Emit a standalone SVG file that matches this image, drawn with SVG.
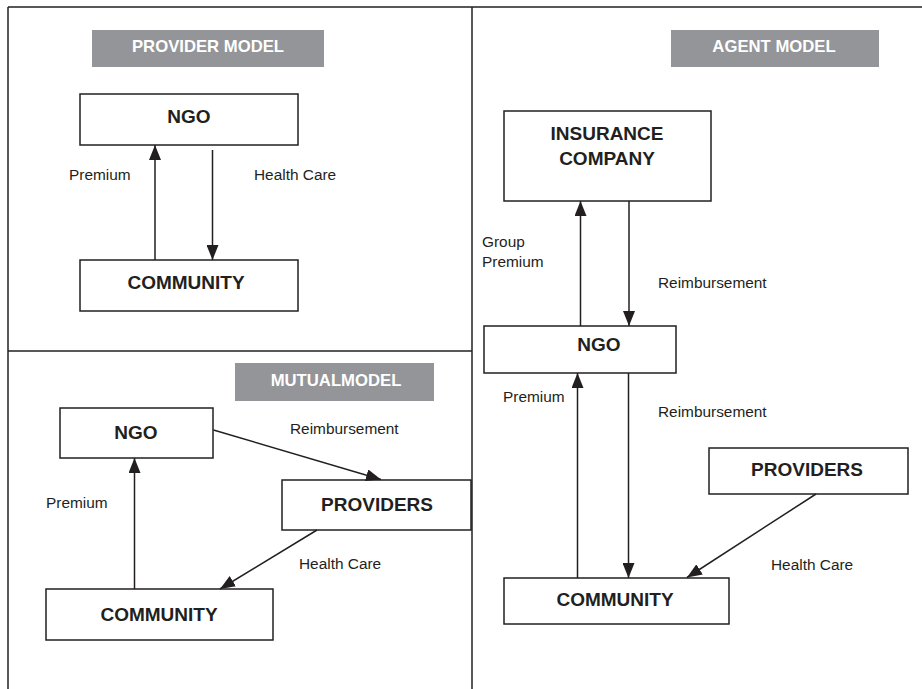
<svg xmlns="http://www.w3.org/2000/svg" width="922" height="689" viewBox="0 0 922 689">
  <style>
    .frame { stroke: #231f20; stroke-width: 1.5; fill: none; }
    .box { fill: #ffffff; stroke: #231f20; stroke-width: 1.5; }
    .title { fill: #939598; }
    .title-text { font-family: "Liberation Sans", Arial, sans-serif; font-weight: bold; font-size: 16.7px; fill: #ffffff; text-anchor: middle; }
    .node-text { font-family: "Liberation Sans", Arial, sans-serif; font-weight: bold; font-size: 19px; fill: #231f20; text-anchor: middle; }
    .label { font-family: "Liberation Sans", Arial, sans-serif; font-size: 15.4px; fill: #231f20; }
    .edge { stroke: #231f20; stroke-width: 1.5; fill: none; marker-end: url(#arrow); }
  </style>
  <defs>
    <marker id="arrow" markerUnits="userSpaceOnUse" markerWidth="15" markerHeight="12" refX="15" refY="6" orient="auto">
      <path d="M0,0 L15,6 L0,12 z" fill="#231f20"/>
    </marker>
  </defs>

  <rect width="922" height="689" fill="#ffffff"/>

  <!-- panel frame -->
  <g id="frame" class="frame">
    <line x1="8" y1="7" x2="922" y2="7"/>
    <line x1="8" y1="7" x2="8" y2="689"/>
    <line x1="472" y1="7" x2="472" y2="689"/>
    <line x1="8" y1="351" x2="472" y2="351"/>
  </g>

  <!-- provider model -->
  <g id="provider-title">
    <rect class="title" x="92" y="30" width="232" height="37"/>
    <text class="title-text" x="208" y="52">PROVIDER MODEL</text>
  </g>
  <g id="provider-ngo">
    <rect class="box" x="80" y="94" width="218" height="51"/>
    <text class="node-text" x="189" y="123">NGO</text>
  </g>
  <g id="provider-community">
    <rect class="box" x="80" y="260" width="218" height="51"/>
    <text class="node-text" x="186" y="289">COMMUNITY</text>
  </g>

  <!-- agent model -->
  <g id="agent-title">
    <rect class="title" x="671" y="30" width="208" height="37"/>
    <text class="title-text" x="774" y="52">AGENT MODEL</text>
  </g>
  <g id="agent-insurance">
    <rect class="box" x="504" y="111" width="207" height="90"/>
    <text class="node-text" x="607" y="140">INSURANCE</text>
    <text class="node-text" x="607" y="165">COMPANY</text>
  </g>
  <g id="agent-ngo">
    <rect class="box" x="484" y="326" width="192" height="47"/>
    <text class="node-text" x="599" y="351">NGO</text>
  </g>
  <g id="agent-providers">
    <rect class="box" x="709" y="448" width="199" height="46"/>
    <text class="node-text" x="807" y="476">PROVIDERS</text>
  </g>
  <g id="agent-community">
    <rect class="box" x="504" y="578" width="225" height="46"/>
    <text class="node-text" x="615" y="606">COMMUNITY</text>
  </g>

  <!-- mutual model -->
  <g id="mutual-title">
    <rect class="title" x="235" y="363" width="199" height="38"/>
    <text class="title-text" x="336" y="386">MUTUALMODEL</text>
  </g>
  <g id="mutual-ngo">
    <rect class="box" x="60" y="408" width="153" height="50"/>
    <text class="node-text" x="136" y="439">NGO</text>
  </g>
  <g id="mutual-providers">
    <rect class="box" x="282" y="480" width="189" height="50"/>
    <text class="node-text" x="377" y="511">PROVIDERS</text>
  </g>
  <g id="mutual-community">
    <rect class="box" x="46" y="589" width="227" height="51"/>
    <text class="node-text" x="159" y="621">COMMUNITY</text>
  </g>

  <!-- connectors -->
  <g id="connectors">
    <line class="edge" x1="155" y1="260" x2="155" y2="145"/>
    <line class="edge" x1="212.5" y1="150" x2="212.5" y2="260"/>

    <line class="edge" x1="580.5" y1="326" x2="580.5" y2="201"/>
    <line class="edge" x1="629" y1="201" x2="629" y2="326"/>
    <line class="edge" x1="577.5" y1="578" x2="577.5" y2="373"/>
    <line class="edge" x1="628.5" y1="373" x2="628.5" y2="578"/>
    <line class="edge" x1="816" y1="494" x2="687" y2="577.5"/>

    <line class="edge" x1="134.5" y1="589" x2="134.5" y2="458"/>
    <line class="edge" x1="213.5" y1="430" x2="381" y2="479.5"/>
    <line class="edge" x1="317" y1="530" x2="220" y2="589"/>
  </g>

  <!-- connector labels -->
  <g id="labels">
    <text class="label" x="69" y="180">Premium</text>
    <text class="label" x="254" y="180">Health Care</text>

    <text class="label" x="482" y="247">Group</text>
    <text class="label" x="482" y="267">Premium</text>
    <text class="label" x="658" y="288">Reimbursement</text>
    <text class="label" x="503" y="402">Premium</text>
    <text class="label" x="658" y="417">Reimbursement</text>
    <text class="label" x="771" y="570">Health Care</text>

    <text class="label" x="290" y="434">Reimbursement</text>
    <text class="label" x="46" y="508">Premium</text>
    <text class="label" x="299" y="569">Health Care</text>
  </g>
</svg>
